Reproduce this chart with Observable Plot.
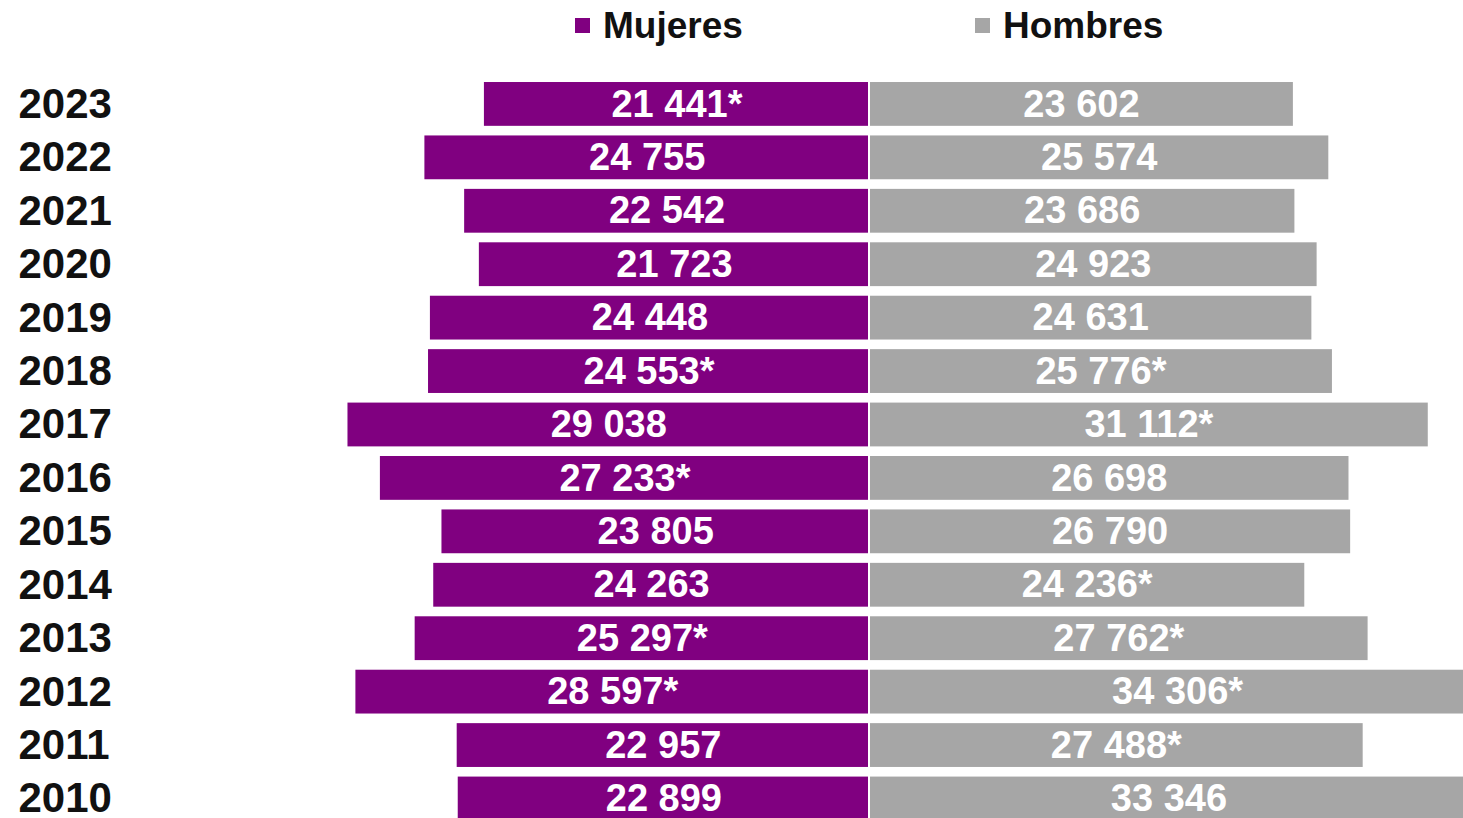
<!DOCTYPE html>
<html>
<head>
<meta charset="utf-8">
<script src="https://cdn.jsdelivr.net/npm/d3@7"></script>
<script src="https://cdn.jsdelivr.net/npm/@observablehq/plot@0.6"></script>
<style>
  html, body { margin: 0; padding: 0; background: #fff; overflow: hidden; }
  body { font-family: "Liberation Sans", Arial, sans-serif; }
  #legend { position: relative; width: 1463px; height: 55px; }
  .sw { position: absolute; width: 15px; height: 15px; top: 18px; }
  .lt { position: absolute; top: 7px; font-size: 37px; line-height: 37px; font-weight: bold; color: #111; }
  #chart svg { display: block; }
</style>
</head>
<body>
<div id="legend"></div>
<div id="chart"></div>
<script>
const years = [2023, 2022, 2021, 2020, 2019, 2018, 2017, 2016, 2015, 2014, 2013, 2012, 2011, 2010];
const mujeres = [21441, 24755, 22542, 21723, 24448, 24553, 29038, 27233, 23805, 24263, 25297, 28597, 22957, 22899];
const hombres = [23602, 25574, 23686, 24923, 24631, 25776, 31112, 26698, 26790, 24236, 27762, 34306, 27488, 33346];
const mujeresAsterisco = [true, false, false, false, false, true, false, true, false, false, true, true, false, false];
const hombresAsterisco = [false, false, false, false, false, true, true, false, false, true, true, true, true, false];
const series = ["Mujeres", "Hombres"];
const colors = ["#800080", "#a6a6a6"];

const fmt = (v, star) => d3.format(",")(v).replace(/,/g, " ") + (star ? "*" : "");

const rows = [];
years.forEach((y, i) => {
  rows.push({year: String(y), sexo: "Mujeres", value: mujeres[i], label: fmt(mujeres[i], mujeresAsterisco[i])});
  rows.push({year: String(y), sexo: "Hombres", value: hombres[i], label: fmt(hombres[i], hombresAsterisco[i])});
});
const women = rows.filter(d => d.sexo === "Mujeres");
const men = rows.filter(d => d.sexo === "Hombres");

// Legend (HTML, above the SVG)
const legend = document.getElementById("legend");
const legendPos = [[575, 603], [975, 1003]];
series.forEach((s, i) => {
  const sw = document.createElement("div");
  sw.className = "sw"; sw.style.left = legendPos[i][0] + "px"; sw.style.background = colors[i];
  const t = document.createElement("div");
  t.className = "lt"; t.style.left = legendPos[i][1] + "px"; t.textContent = s;
  legend.appendChild(sw); legend.appendChild(t);
});

const k = 0.01796; // px per unit
const center = 869;
const W = 1463;

const chart = Plot.plot({
  width: W,
  height: 775,
  marginTop: 17.4,
  marginBottom: 0,
  marginLeft: 0,
  marginRight: 0,
  style: {fontFamily: "'Liberation Sans', Arial, sans-serif", background: "#fff"},
  x: {domain: [-center / k, (W - center) / k], axis: null},
  y: {domain: years.map(String), padding: 0.18, round: false, axis: null},
  marks: [
    Plot.barX(women, {x1: d => -d.value, x2: 0, y: "year", fill: colors[0], insetRight: 1}),
    Plot.barX(men, {x1: 0, x2: "value", y: "year", fill: colors[1], insetLeft: 1}),
    Plot.text(women, {x: d => -d.value / 2, y: "year", text: "label", fill: "white", fontSize: 38, fontWeight: "bold"}),
    Plot.text(men, {x: d => d.value / 2, y: "year", text: "label", fill: "white", fontSize: 38, fontWeight: "bold"}),
    Plot.text(years.map(String), {y: d => d, text: d => d, frameAnchor: "left", dx: 18, textAnchor: "start", fill: "#111", fontSize: 42, fontWeight: "bold"})
  ]
});
document.getElementById("chart").appendChild(chart);
</script>
</body>
</html>
